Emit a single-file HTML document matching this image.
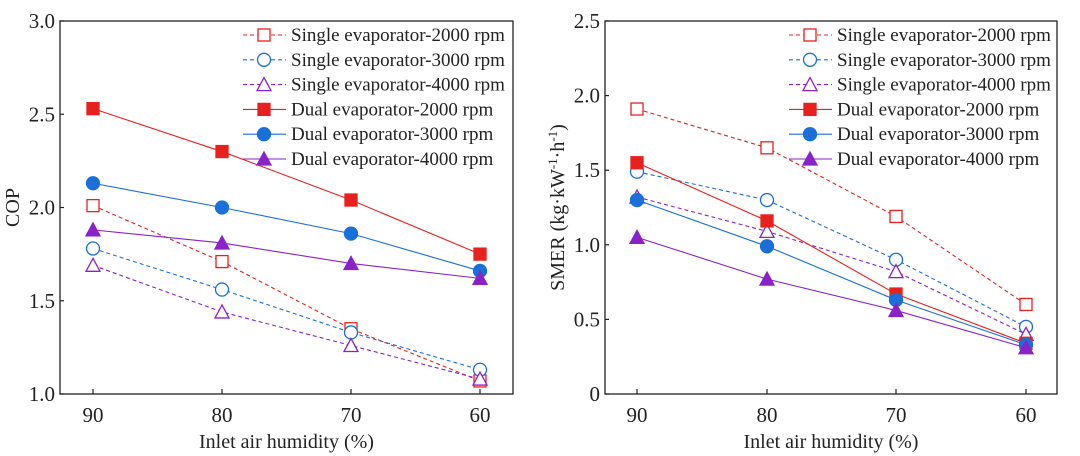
<!DOCTYPE html>
<html><head><meta charset="utf-8"><style>
html,body{margin:0;padding:0;background:#fff;}
svg{display:block;font-family:"Liberation Serif",serif;}
svg text{font-family:"Liberation Serif",serif;}
</style></head><body>
<svg id="fig" width="1080" height="456" viewBox="0 0 1080 456" xmlns="http://www.w3.org/2000/svg"></svg>
<script>
const categories = [90, 80, 70, 60];
const seriesNames = ["Single evaporator-2000 rpm","Single evaporator-3000 rpm","Single evaporator-4000 rpm","Dual evaporator-2000 rpm","Dual evaporator-3000 rpm","Dual evaporator-4000 rpm"];
const copS2000 = [2.01, 1.71, 1.35, 1.07];
const copS3000 = [1.78, 1.56, 1.33, 1.13];
const copS4000 = [1.69, 1.44, 1.26, 1.08];
const copD2000 = [2.53, 2.30, 2.04, 1.75];
const copD3000 = [2.13, 2.00, 1.86, 1.66];
const copD4000 = [1.88, 1.81, 1.70, 1.62];
const smerS2000 = [1.91, 1.65, 1.19, 0.60];
const smerS3000 = [1.49, 1.30, 0.90, 0.45];
const smerS4000 = [1.32, 1.09, 0.82, 0.40];
const smerD2000 = [1.55, 1.16, 0.67, 0.34];
const smerD3000 = [1.30, 0.99, 0.63, 0.33];
const smerD4000 = [1.05, 0.77, 0.56, 0.31];
const copTicks = ["1.0","1.5","2.0","2.5","3.0"];
const smerTicks = ["0","0.5","1.0","1.5","2.0","2.5"];

const NS = "http://www.w3.org/2000/svg";
const svg = document.getElementById('fig');
const colors = ["#e8211f","#1a6fd8","#8a22c8"];
const FF = '"Liberation Serif", serif';
function mk(tag, attrs, parent){const e=document.createElementNS(NS,tag);for(const k in attrs)e.setAttribute(k,attrs[k]);if(tag==='text')e.setAttribute('font-family',FF);(parent||svg).appendChild(e);return e;}

function marker(g, shape, filled, color, x, y){
  const fill = filled ? color : "#fff";
  let m;
  if(shape==="sq") m=mk('rect',{x:x-6,y:y-6,width:12,height:12,fill:fill,stroke:color,'stroke-width':1.3},g);
  else if(shape==="ci") m=mk('circle',{cx:x,cy:y,r:6.5,fill:fill,stroke:color,'stroke-width':1.3},g);
  else m=mk('polygon',{points:`${x},${y-7} ${x+7},${y+6} ${x-7},${y+6}`,fill:fill,stroke:color,'stroke-width':1.3},g);
  return m;
}

function chart(cfg){
  const {x0,x1,y0,y1,ymin,ymax,xpos,ticks,data,ylabel,legX,prefix,ylx} = cfg;
  const g = mk('g',{});
  
  
  const sy = v => y1 - (v - ymin)/(ymax - ymin)*(y1 - y0);
  const sx = i => xpos[i];
  const frame = mk('rect',{x:x0,y:y0,width:x1-x0,height:y1-y0,fill:'none',stroke:'#222','stroke-width':1.3},g);
  
  
  ticks.forEach(t=>{
    const v = parseFloat(t), y = sy(v);
    mk('line',{x1:x0,y1:y,x2:x0+4,y2:y,stroke:'#222','stroke-width':1.2},g);
    const tx = mk('text',{x:x0-5,y:y+7,'text-anchor':'end','font-size':21,fill:'#222'},g);
    tx.textContent = t;
    
    
  });
  categories.forEach((c,i)=>{
    const x = sx(i);
    mk('line',{x1:x,y1:y1,x2:x,y2:y1-5,stroke:'#222','stroke-width':1.2},g);
    const tx = mk('text',{x:x,y:y1+28,'text-anchor':'middle','font-size':21,fill:'#222'},g);
    tx.textContent = c;
    
    
  });
  const xt = mk('text',{x:(x0+x1)/2,y:448,'text-anchor':'middle','font-size':20,fill:'#222'},g);
  xt.textContent = 'Inlet air humidity (%)';
  
  
  const yt = mk('text',{transform:`translate(${ylx},${(y0+y1)/2}) rotate(-90)`,'text-anchor':'middle','font-size':20,fill:'#222'},g);
  yt.innerHTML = ylabel;
  
  
  const shapes=["sq","ci","tr"];
  data.forEach((vals,s)=>{
    const col = colors[s%3], dashed = s<3, shape = shapes[s%3];
    const sg = mk('g',{},g);
    
    
    const pts = vals.map((v,i)=>sx(i)+','+sy(v)).join(' ');
    const attrs={points:pts,fill:'none',stroke:col,'stroke-width':1.1};
    if(dashed) attrs['stroke-dasharray']='4,3';
    mk('polyline',attrs,sg);
    vals.forEach((v,i)=>{
      const m = marker(sg,shape,!dashed,col,sx(i),sy(v));
      
      
    });
    const ly = 35 + s*24.8;
    const lg = mk('g',{},g);
    
    
    const la={x1:legX,y1:ly,x2:legX+43,y2:ly,stroke:col,'stroke-width':1.1};
    if(dashed) la['stroke-dasharray']='4,3';
    mk('line',la,lg);
    marker(lg,shape,!dashed,col,legX+21,ly);
    const lt = mk('text',{x:legX+48,y:ly+6,'font-size':19,fill:'#222'},lg);
    lt.textContent = seriesNames[s];
  });
}

chart({x0:60,x1:513,y0:21,y1:394,ymin:1.0,ymax:3.0,xpos:[93,222,351,480],ticks:copTicks,
  data:[copS2000,copS3000,copS4000,copD2000,copD3000,copD4000],ylabel:'COP',legX:243,prefix:'cop',ylx:19});
chart({x0:605,x1:1057,y0:21,y1:394,ymin:0,ymax:2.5,xpos:[637,767,896,1026],ticks:smerTicks,
  data:[smerS2000,smerS3000,smerS4000,smerD2000,smerD3000,smerD4000],
  ylabel:'SMER (kg·kW<tspan baseline-shift="super" font-size="13">-1</tspan>·h<tspan baseline-shift="super" font-size="13">-1</tspan>)',legX:789,prefix:'smer',ylx:564});
</script>
</body></html>
